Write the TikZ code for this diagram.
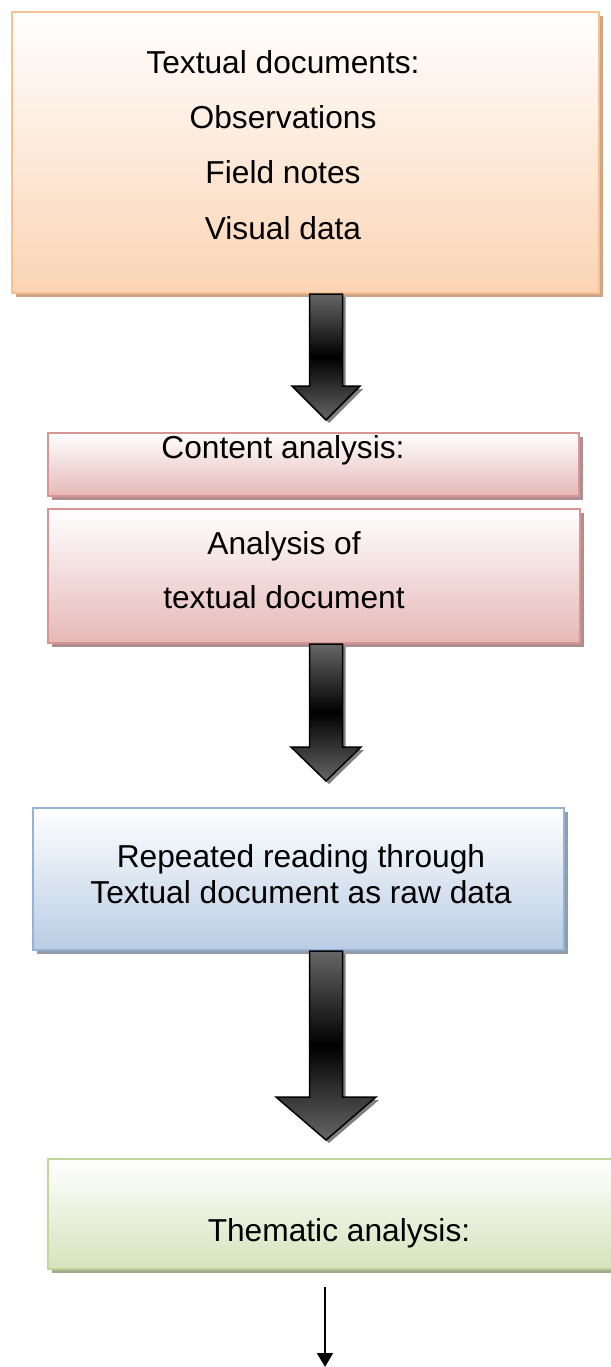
\documentclass[tikz,border=0pt]{standalone}
\usepackage{fontspec}
\setmainfont{Liberation Sans}
\usetikzlibrary{shadows,arrows.meta,calc}
\definecolor{orangeline}{HTML}{FAC090}
\definecolor{orangefill}{HTML}{FBD4B4}
\definecolor{orangeshadow}{HTML}{CDA486}
\definecolor{pinkline}{HTML}{D99594}
\definecolor{pinkfill}{HTML}{E5B8B7}
\definecolor{pinkshadow}{HTML}{AE8E8E}
\definecolor{blueline}{HTML}{95B3D7}
\definecolor{bluefill}{HTML}{B8CCE4}
\definecolor{blueshadow}{HTML}{919CAB}
\definecolor{greenline}{HTML}{C2D69B}
\definecolor{greenfill}{HTML}{D6E3BC}
\definecolor{greenshadow}{HTML}{A3AB8E}
\definecolor{arrowgray}{HTML}{666666}
\definecolor{arrowshadow}{HTML}{808080}
\begin{document}
\begin{tikzpicture}
  [
    x=1pt,y=-1pt,
    inner sep=0mm,
    box/.style={rectangle,line width=2pt},
    docbox/.style={box,draw=orangeline,top color=white,bottom color=orangefill,
      drop shadow={shadow xshift=4pt,shadow yshift=-4pt,opacity=1,fill=orangeshadow}},
    contentbox/.style={box,draw=pinkline,top color=white,bottom color=pinkfill,
      drop shadow={shadow xshift=4pt,shadow yshift=-4pt,opacity=1,fill=pinkshadow}},
    readbox/.style={box,draw=blueline,top color=white,bottom color=bluefill,
      drop shadow={shadow xshift=4pt,shadow yshift=-4pt,opacity=1,fill=blueshadow}},
    themebox/.style={box,draw=greenline,top color=white,bottom color=greenfill,
      drop shadow={shadow xshift=4pt,shadow yshift=-4pt,opacity=1,fill=greenshadow}},
    txt/.style={anchor=base,font=\fontsize{31.7pt}{36pt}\selectfont},
    blockarrow/.style={draw=black,line width=1.5pt,top color=arrowgray,bottom color=arrowgray,middle color=black,
      drop shadow={shadow xshift=3pt,shadow yshift=-3pt,opacity=1,fill=arrowshadow}},
  ]
  \useasboundingbox (0,0) rectangle (610,1367);
  % boxes
  \node at (305.5,152.5) [docbox,minimum width=587pt,minimum height=281pt] (docs) {};
  \node at (313.5,464.5) [contentbox,minimum width=531pt,minimum height=63pt] (content) {};
  \node at (314,576) [contentbox,minimum width=532pt,minimum height=134pt] (analysis) {};
  \node at (298.5,879) [readbox,minimum width=531pt,minimum height=142pt] (reading) {};
  \node at (339,1214) [themebox,minimum width=582pt,minimum height=110pt] (theme) {};
  % texts
  \foreach \t [count=\i] in {Textual documents:,Observations,Field notes,Visual data}
    \node at (283,{19+55*\i}) [txt] (docs\i) {\t};
  \node at (283,458) [txt] (content1) {Content analysis:};
  \node at (284,554) [txt] (analysis1) {Analysis of};
  \node at (284,608) [txt] (analysis2) {textual document};
  \node at (301,867) [txt] (reading1) {Repeated reading through};
  \node at (301,903) [txt] (reading2) {Textual document as raw data};
  \node at (339,1241) [txt] (theme1) {Thematic analysis:};
  % block arrows
  \coordinate (axis) at (326,0);
  \foreach \b/\len/\hl/\hw in {docs/92/34/34,analysis/103/34/35,reading/146/43/50}
    \path[blockarrow] ($(\b.south -| axis)+(-16.5,0)$) -- ++(0,\len) -- ++({16.5-\hw},0)
      -- ++(\hw,\hl) -- ++(\hw,-\hl) -- ++({16.5-\hw},0) -- ++(0,-\len) -- cycle;
  % thin arrow
  \coordinate (tip) at (325,1367);
  \draw[line width=1.5pt,-{Triangle[width=16pt,length=14pt]}] ($(theme.south -| tip)+(0,17)$) -- (tip);
\end{tikzpicture}
\end{document}
